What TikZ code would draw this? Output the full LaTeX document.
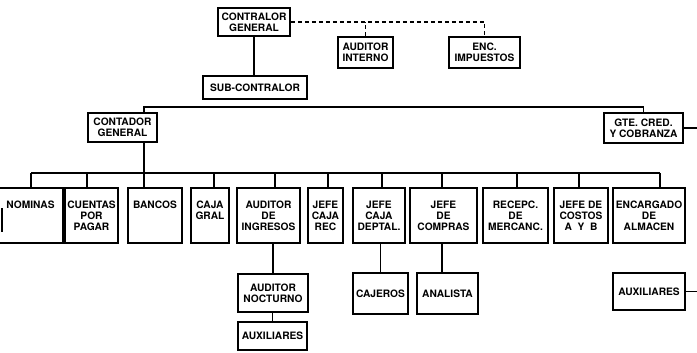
\documentclass[tikz,border=0pt]{standalone}
\usepackage{fontspec}
\setmainfont{TeX Gyre Heros}
\tikzset{
  caja/.style={draw, line width=1.5pt, inner sep=1pt, align=center,
    font=\fontsize{10.2}{11}\selectfont\bfseries},
  fila/.style={caja, minimum height=55},
  linea/.style={line width=1.5pt},
  punteada/.style={line width=1.3pt, dashed, dash pattern=on 4pt off 3pt}
}
\begin{document}
\begin{tikzpicture}[x=1pt, y=-1pt]
    \useasboundingbox (0,0) rectangle (697,353);

    % Upper levels
    \node[caja, minimum width=72, minimum height=28] (contralor) at (254,22) {CONTRALOR\\GENERAL};
    \node[caja, minimum width=104, minimum height=23] (sub) at (255,87.5) {SUB-CONTRALOR};
    \node[caja, minimum width=55, minimum height=31] (audint) at (365.5,52.5) {AUDITOR\\INTERNO};
    \node[caja, minimum width=71, minimum height=31] (enc) at (484.5,52.5) {ENC.\\IMPUESTOS};
    \node[caja, minimum width=69, minimum height=29] (contador) at (122.5,127.5) {CONTADOR\\GENERAL};
    \node[caja, minimum width=79, minimum height=30] (gte) at (643.5,128) {GTE. CRED.\\Y COBRANZA};

    % Lower row
    \node[fila, minimum width=65] (nominas) at (30.5,215.5) {NOMINAS\\~\\~};
    \node[fila, minimum width=53] (cuentas) at (91.5,215.5) {CUENTAS\\POR\\PAGAR};
    \node[fila, minimum width=54] (bancos) at (155,215.5) {BANCOS\\~\\~};
    \node[fila, minimum width=38] (caja) at (210,215.5) {CAJA\\GRAL\\~};
    \node[fila, minimum width=63] (audingr) at (268.5,215.5) {AUDITOR\\DE\\INGRESOS};
    \node[fila, minimum width=35] (cajarec) at (325.5,215.5) {JEFE\\CAJA\\REC};
    \node[fila, minimum width=52] (deptal) at (379,215.5) {JEFE\\CAJA\\DEPTAL.};
    \node[fila, minimum width=67] (compras) at (443.5,215.5) {JEFE\\DE\\COMPRAS};
    \node[fila, minimum width=65] (recepc) at (515.5,215.5) {RECEPC.\\DE\\MERCANC.};
    \node[fila, minimum width=54] (costos) at (581,215.5) {JEFE DE\\COSTOS\\A\ \ Y\ \ B};
    \node[fila, minimum width=72] (almacen) at (649,215.5) {ENCARGADO\\DE\\ALMACEN};

    % Dependents
    \node[caja, minimum width=70, minimum height=38] (audnoct) at (273,293) {AUDITOR\\NOCTURNO};
    \node[caja, minimum width=69, minimum height=28] (auxa) at (272.5,336) {AUXILIARES};
    \node[caja, minimum width=55, minimum height=41] (cajeros) at (380.5,293.5) {CAJEROS};
    \node[caja, minimum width=61, minimum height=41] (analista) at (447.5,293.5) {ANALISTA};
    \node[caja, minimum width=72, minimum height=37] (auxb) at (649,291.5) {AUXILIARES};

    % Staff lines
    \draw[punteada] (contralor.east) -- (contralor.east -| enc.north) -- (enc.north);
    \draw[punteada] (audint.north) -- (audint.north |- contralor.east);

    % Line lines
    \draw[linea] (contralor.south) -- (contralor.south |- sub.north);
    \coordinate (ramaA) at (144,107);
    \coordinate (ramaB) at (144,173);
    \draw[linea] (contador.north -| ramaA) -- (ramaA) -- (ramaA -| gte.north) -- (gte.north);
    \draw[linea] (contador.south -| ramaB) -- (ramaB);
    \draw[linea] (31,173) -- (660,173);
    \foreach \n/\x in {nominas/31, cuentas/87, bancos/144, caja/214, audingr/275, cajarec/328,
                       deptal/382, compras/442, recepc/517, costos/579, almacen/660} {
        \coordinate (d\n) at (\x,173);
        \draw[linea] (d\n) -- (d\n |- \n.north);
    }
    \draw[linea] (audnoct.north) -- (audnoct.north |- audingr.south);
    \draw[linea] (auxa.north) -- (auxa.north |- audnoct.south);
    \draw[linea] (cajeros.north) -- (cajeros.north |- deptal.south);
    \draw[linea] ([xshift=-5.5pt]analista.north) -- ([xshift=-5.5pt]analista.north |- compras.south);

    % Lines leaving the page
    \coordinate (finA) at (697,126);
    \coordinate (finB) at (697,292);
    \draw[linea] (gte.east) -- (gte.east -| finA);
    \draw[linea] (auxb.east) -- (auxb.east -| finB);
    \draw[linea] (2,208) -- (2,232);

\end{tikzpicture}
\end{document}
